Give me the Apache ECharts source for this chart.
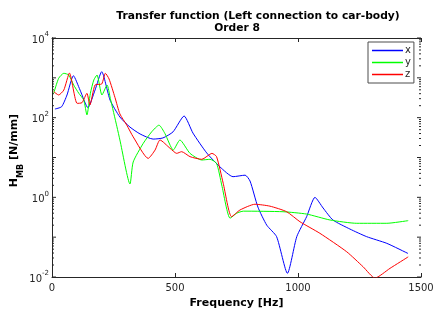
<!DOCTYPE html>
<html><head><meta charset="utf-8">
<script src="https://cdn.jsdelivr.net/npm/echarts@6/dist/echarts.min.js"></script>
<style>html,body{margin:0;padding:0;background:#fff}#c{width:436px;height:311px}</style>
</head><body><div id="c"></div>
<script>
// [frequency Hz, H_MB N/mm]
const seriesX = [[12,165],[39,188],[61,371],[87,1130],[114,494],[146,178],[175,494],[202,1425],[236,277],[276,104],[317,58],[358,39],[411,29],[451,31],[492,44],[537,110],[573,41],[629,13],[683,5.8],[736,3.3],[785,3.6],[805,2.57],[837,0.57],[873,0.2],[913,0.103],[957,0.0124],[995,0.103],[1035,0.326],[1069,1.0],[1102,0.54],[1142,0.27],[1211,0.16],[1279,0.103],[1361,0.07],[1447,0.039]];
const seriesY = [[7,409],[27,973],[48,1300],[68,1178],[88,661],[109,409],[129,277],[142,117],[156,409],[170,883],[183,1178],[203,371],[224,661],[237,306],[264,59],[276,27.5],[317,2.16],[330,7.7],[371,22.7],[405,44],[435,65],[459,40],[493,15.4],[520,27.5],[561,12.7],[609,8.65],[642,9.0],[669,7.1],[690,2.04],[724,0.3],[751,0.4],[778,0.45],[939,0.435],[1035,0.38],[1130,0.27],[1239,0.223],[1361,0.223],[1448,0.26]];
const seriesZ = [[7,449],[27,371],[48,494],[71,1321],[102,229],[122,238],[142,409],[154,208],[175,661],[202,700],[217,1300],[232,936],[256,321],[276,124],[304,65],[330,33],[391,9.5],[419,15.4],[439,27.5],[480,17],[507,12.7],[527,14],[561,10.5],[609,9.0],[650,12.7],[669,10.5],[696,2.25],[730,0.326],[764,0.48],[825,0.67],[886,0.6],[954,0.435],[1008,0.244],[1089,0.125],[1198,0.043],[1265,0.018],[1313,0.0094],[1374,0.0165],[1448,0.032]];
const seriesNames = ['x','y','z'];
const xTicks = [0,500,1000,1500];
const yDecades = [-2,-1,0,1,2,3];

const FONT = 'DejaVu Sans';
const AX = '#262626';
const tickVals = [];
yDecades.forEach(d => { for (let k = 1; k <= 9; k++) tickVals.push([k*Math.pow(10,d), k===1?1:0]); });
tickVals.push([1e4,1]);

const chart = echarts.init(document.getElementById('c'), null, {renderer:'canvas'});
chart.setOption({
  backgroundColor:'#fff',
  animation:false,
  title:[
    {text:'Transfer function (Left connection to car-body)', left:253, top:6, textAlign:'center',
     textStyle:{fontFamily:FONT, fontSize:10.7, fontWeight:'bold', color:'#000'}},
    {text:'Order 8', left:232, top:18, textAlign:'center',
     textStyle:{fontFamily:FONT, fontSize:10.7, fontWeight:'bold', color:'#000'}}
  ],
  legend:{
    orient:'vertical', left:368, top:42, data:seriesNames,
    icon:'rect', itemWidth:31, itemHeight:1.5, itemGap:1,
    padding:[3,3,3,4], borderColor:'#4d4d4d', borderWidth:1, backgroundColor:'#fff',
    textStyle:{fontFamily:FONT, fontSize:10, color:AX, padding:[0,0,0,-3], lineHeight:11}
  },
  grid:{left:52, right:15, top:38, bottom:34, containLabel:false, outerBoundsMode:'none'},
  xAxis:[
    {type:'value', min:xTicks[0], max:xTicks[xTicks.length-1], interval:500,
     name:'Frequency [Hz]', nameLocation:'middle', nameGap:20,
     nameTextStyle:{fontFamily:FONT, fontSize:11, fontWeight:'bold', color:'#000'},
     axisLine:{lineStyle:{color:AX, width:1}},
     axisTick:{inside:true, length:4, lineStyle:{color:AX}},
     axisLabel:{fontFamily:FONT, fontSize:10, color:AX, margin:6, formatter:function(v){return String(v);}},
     splitLine:{show:false}},
    {type:'value', position:'top', min:xTicks[0], max:xTicks[xTicks.length-1], interval:500,
     axisLine:{lineStyle:{color:AX, width:1}},
     axisTick:{inside:true, length:4, lineStyle:{color:AX}},
     axisLabel:{show:false}, splitLine:{show:false}}
  ],
  yAxis:[
    {type:'log', logBase:10, min:0.01, max:1e4, splitNumber:6,
     name:'{a|H}{b|MB}{a| [N/mm]}', nameLocation:'middle', nameGap:27, nameRotate:90, nameMoveOverlap:false,
     nameTextStyle:{padding:[0,0,0,14], rich:{
       a:{fontFamily:FONT, fontSize:11, fontWeight:'bold', color:'#000', lineHeight:16, verticalAlign:'top'},
       b:{fontFamily:FONT, fontSize:8, fontWeight:'bold', color:'#000', lineHeight:16, verticalAlign:'bottom'}}},
     axisLine:{lineStyle:{color:AX, width:1}},
     axisTick:{show:false},
     axisLabel:{fontFamily:FONT, color:AX, margin:3,
       formatter:function(v){ const e=Math.round(Math.log10(v)); if (e%2!==0) return ''; return '{b|10}{s|'+e+'}'; },
       rich:{b:{fontFamily:FONT, fontSize:10, color:AX, lineHeight:14, verticalAlign:'bottom'},
             s:{fontFamily:FONT, fontSize:7, color:AX, lineHeight:14, verticalAlign:'top'}}},
     splitLine:{show:false}},
    {type:'log', logBase:10, min:0.01, max:1e4, position:'right',
     axisLine:{lineStyle:{color:AX, width:1}}, axisTick:{show:false},
     axisLabel:{show:false}, splitLine:{show:false}}
  ],
  series:[
    {name:seriesNames[0], type:'line', data:seriesX, showSymbol:false, smooth:0.2, lineStyle:{color:'#0000ff', width:1}, itemStyle:{color:'#0000ff'}},
    {name:seriesNames[1], type:'line', data:seriesY, showSymbol:false, smooth:0.2, lineStyle:{color:'#00ff00', width:1}, itemStyle:{color:'#00ff00'}},
    {name:seriesNames[2], type:'line', data:seriesZ, showSymbol:false, smooth:0.2, lineStyle:{color:'#ff0000', width:1}, itemStyle:{color:'#ff0000'}},
    {name:'ticks', type:'custom', silent:true, data:tickVals.map(t=>[0,t[0],t[1]]),
     encode:{x:0,y:1},
     renderItem:function(params, api){
       const v = api.value(1), major = api.value(2);
       const len = major ? 4 : 2;
       const pL = api.coord([xTicks[0], v]);
       const pR = api.coord([xTicks[xTicks.length-1], v]);
       const st = {stroke:AX, lineWidth:1};
       return {type:'group', children:[
         {type:'line', shape:{x1:pL[0], y1:pL[1], x2:pL[0]+len, y2:pL[1]}, style:st},
         {type:'line', shape:{x1:pR[0], y1:pR[1], x2:pR[0]-len, y2:pR[1]}, style:st}
       ]};
     }}
  ]
});
</script></body></html>
